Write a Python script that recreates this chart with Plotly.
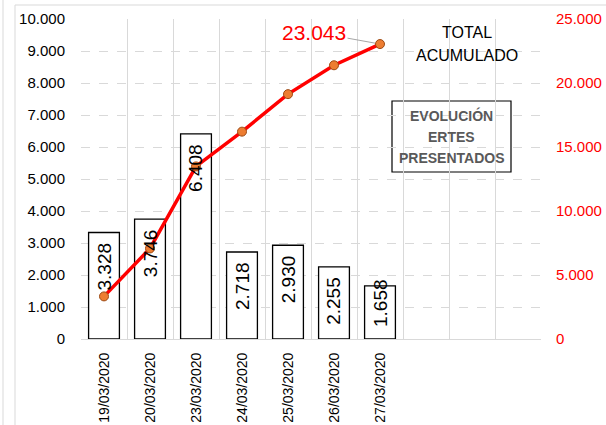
import plotly.graph_objects as go

# ---- data ----
dates = ["19/03/2020", "20/03/2020", "23/03/2020", "24/03/2020",
         "25/03/2020", "26/03/2020", "27/03/2020"]
empty_slots = [" ", "  ", "   "]
daily_ertes = [3328, 3746, 6408, 2718, 2930, 2255, 1658]
cumulative = [3328, 7074, 13482, 16200, 19130, 21385, 23043]
left_ticks = [0, 1000, 2000, 3000, 4000, 5000, 6000, 7000, 8000, 9000, 10000]
right_ticks = [0, 5000, 10000, 15000, 20000, 25000]
total_label = "23.043"

W, H = 606, 425
L, R, T, B = 81, 65, 19, 86
PW, PH = W - L - R, H - T - B
YMAX = 10000


def xp(px):
    return (px - L) / PW


def yp(py):
    return (H - B - py) / PH


def fmt(v):
    return "{:,}".format(v).replace(",", ".")


FONT = "Liberation Sans, Arial, sans-serif"
GRID = "#d9d9d9"

fig = go.Figure()

fig.add_trace(go.Bar(
    x=dates, y=daily_ertes, width=0.67,
    marker=dict(color="white", line=dict(color="black", width=1.3)),
    showlegend=False, hoverinfo="skip",
))

fig.add_trace(go.Scatter(
    x=empty_slots, y=[None] * len(empty_slots), mode="markers",
    showlegend=False, hoverinfo="skip",
))

fig.add_trace(go.Scatter(
    x=dates, y=cumulative, yaxis="y2", mode="lines+markers",
    line=dict(color="#FF0000", width=3.5),
    marker=dict(size=9, color="#ED7D31", line=dict(color="#9C4A14", width=1)),
    showlegend=False, hoverinfo="skip",
))

annotations = []
# bar value labels (inside end, rotated)
for d, v in zip(dates, daily_ertes):
    bar_px = v / YMAX * PH
    if bar_px > 62:
        annotations.append(dict(
            x=d, y=v, xref="x", yref="y", text=fmt(v), textangle=-90,
            showarrow=False, yanchor="top", xanchor="center", yshift=-8,
            font=dict(family=FONT, size=19, color="black")))
    else:
        annotations.append(dict(
            x=d, y=0, xref="x", yref="y", text=fmt(v), textangle=-90,
            showarrow=False, yanchor="bottom", xanchor="center", yshift=10,
            font=dict(family=FONT, size=19, color="black")))

annotations += [
    dict(x=dates[-1], y=cumulative[-1], xref="x", yref="y2",
         text=total_label, showarrow=True, arrowhead=0, arrowwidth=1,
         arrowcolor="#A6A6A6", ax=-66, ay=-12, standoff=5,
         font=dict(family=FONT, size=21, color="#FF0000")),
    dict(x=xp(467), y=yp(32), xref="paper", yref="paper", text="TOTAL",
         xanchor="center", yanchor="middle",
         showarrow=False, font=dict(family=FONT, size=16, color="black")),
    dict(x=xp(467), y=yp(55), xref="paper", yref="paper", text="ACUMULADO",
         xanchor="center", yanchor="middle",
         showarrow=False, font=dict(family=FONT, size=16, color="black")),
]
for txt, py in [("EVOLUCIÓN", 115), ("ERTES", 137), ("PRESENTADOS", 158)]:
    annotations.append(dict(
        x=xp(451.5), y=yp(py), xref="paper", yref="paper", text="<b>%s</b>" % txt,
        xanchor="center", yanchor="middle",
        showarrow=False, font=dict(family=FONT, size=14, color="#595959")))

shapes = [
    dict(type="rect", xref="paper", yref="paper",
         x0=xp(392), x1=xp(511), y0=yp(101), y1=yp(172),
         line=dict(color="black", width=1.2), fillcolor="white", layer="below"),
    dict(type="line", xref="paper", yref="paper",
         x0=xp(3), x1=xp(3), y0=yp(0), y1=yp(H), line=dict(color=GRID, width=1)),
    dict(type="line", xref="paper", yref="paper",
         x0=xp(15), x1=xp(15), y0=yp(5), y1=yp(H), line=dict(color=GRID, width=1)),
    dict(type="line", xref="paper", yref="paper",
         x0=xp(15), x1=xp(W), y0=yp(5), y1=yp(5), line=dict(color=GRID, width=1)),
]

fig.update_layout(
    width=W, height=H, margin=dict(l=L, r=R, t=T, b=B, pad=0, autoexpand=False),
    paper_bgcolor="white", plot_bgcolor="white",
    separators=",.",
    font=dict(family=FONT, color="black"),
    xaxis=dict(
        type="category", categoryorder="array", categoryarray=dates + empty_slots,
        range=[-0.5, 9.5], tickson="boundaries", showgrid=True, gridcolor=GRID,
        gridwidth=1, showline=True, linecolor=GRID, linewidth=1, ticks="",
        tickangle=-90, tickfont=dict(family=FONT, size=14, color="black"),
        ticklabelstandoff=7, fixedrange=True, automargin=False,
    ),
    yaxis=dict(
        range=[0, YMAX], tickvals=left_ticks, tickformat=",.0f",
        showgrid=True, gridcolor=GRID, griddash="dash", gridwidth=1,
        zeroline=False, showline=False, ticks="",
        tickfont=dict(family=FONT, size=15, color="black"),
        ticklabelstandoff=15, automargin=False,
    ),
    yaxis2=dict(
        range=[0, 25000], tickvals=right_ticks, tickformat=",.0f",
        overlaying="y", side="right", showgrid=False, zeroline=False,
        showline=False, ticks="",
        tickfont=dict(family=FONT, size=15, color="#FF0000"),
        ticklabelstandoff=14, automargin=False,
    ),
    annotations=annotations, shapes=shapes,
)

fig.write_html(
    "out.html",
    config={"displayModeBar": False},
    post_script="document.body.style.margin='0';document.body.style.overflow='hidden';",
)
